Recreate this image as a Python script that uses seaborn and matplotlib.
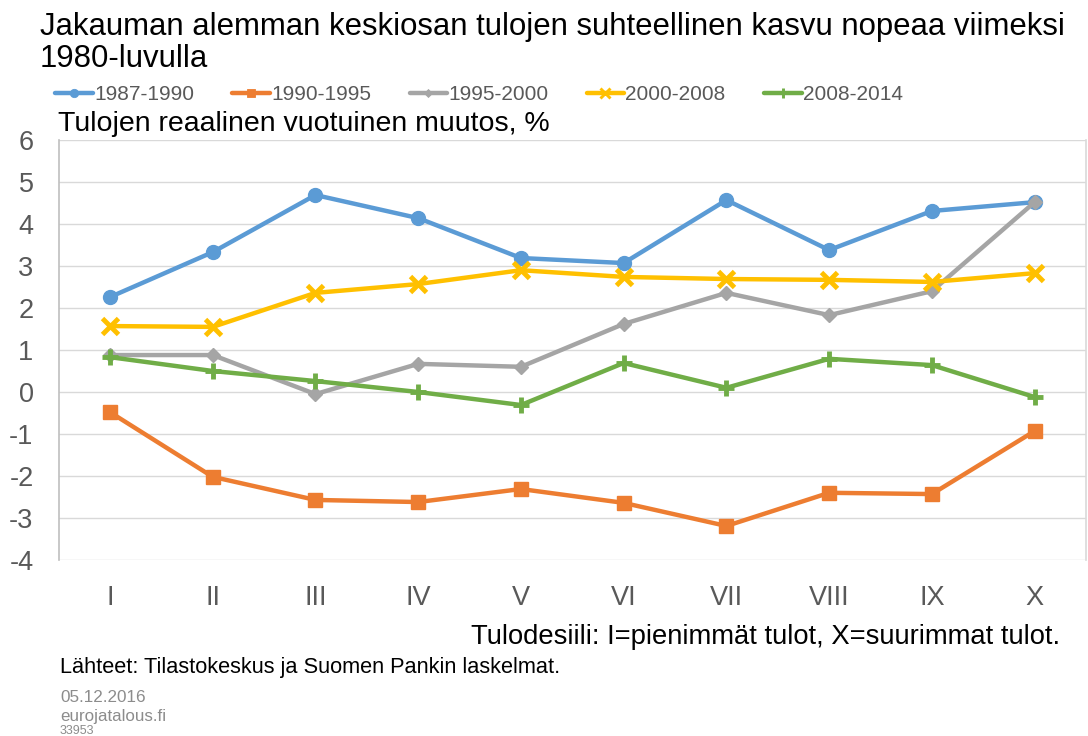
import matplotlib
matplotlib.use("Agg")
import matplotlib.pyplot as plt
import seaborn as sns
import pandas as pd
from matplotlib.lines import Line2D

categories = ["I", "II", "III", "IV", "V", "VI", "VII", "VIII", "IX", "X"]
s_1987_1990 = [2.26, 3.33, 4.69, 4.14, 3.19, 3.07, 4.57, 3.38, 4.31, 4.52]
s_1990_1995 = [-0.48, -2.02, -2.57, -2.62, -2.31, -2.64, -3.19, -2.40, -2.43, -0.93]
s_1995_2000 = [0.88, 0.88, -0.05, 0.67, 0.60, 1.62, 2.36, 1.83, 2.40, 4.52]
s_2000_2008 = [1.57, 1.55, 2.36, 2.57, 2.90, 2.74, 2.69, 2.67, 2.62, 2.83]
s_2008_2014 = [0.83, 0.50, 0.26, 0.00, -0.31, 0.69, 0.10, 0.79, 0.64, -0.12]
series_names = ["1987-1990", "1990-1995", "1995-2000", "2000-2008", "2008-2014"]
series_values = [s_1987_1990, s_1990_1995, s_1995_2000, s_2000_2008, s_2008_2014]
y_ticks = [-4, -3, -2, -1, 0, 1, 2, 3, 4, 5, 6]

sns.set_theme(style="white")
plt.rcParams["font.family"] = ["Liberation Sans", "DejaVu Sans"]

colors = ["#5B9BD5", "#ED7D31", "#A5A5A5", "#FFC000", "#70AD47"]
markers = ["o", "s", "D", "x", "+"]
msizes = [10, 10, 7, 11, 12]
mews = [1, 1, 1, 3.5, 3.5]

fig = plt.figure(figsize=(10.88, 7.36), dpi=100)
ax = fig.add_axes([58.6 / 1088, 1 - 560 / 736, (1086 - 58.6) / 1088, 420 / 736])

x_pos = list(range(len(categories)))
handles = []
for name, vals, c, m, ms, mw in zip(series_names, series_values, colors, markers, msizes, mews):
    df = pd.DataFrame({"x": x_pos, "y": vals})
    sns.lineplot(data=df, x="x", y="y", ax=ax, color=c, linewidth=3.2, marker=m,
                 markersize=ms, markeredgewidth=mw, markeredgecolor=c, sort=False)
    handles.append(Line2D([0], [0], color=c, linewidth=3.2, marker=m,
                          markersize=ms * 0.6, markeredgewidth=mw * 0.6, markeredgecolor=c))

ax.set_xlim(-0.5, len(categories) - 0.5)
ax.set_ylim(-4, 6)
ax.set_yticks(y_ticks)
ax.set_yticklabels([str(v) for v in y_ticks])
ax.set_xticks(x_pos)
ax.set_xticklabels(categories)
ax.tick_params(axis="both", length=0, labelsize=19.5, colors="#595959")
ax.tick_params(axis="x", pad=18)
ax.tick_params(axis="y", pad=18)
ax.set_xlabel("")
ax.set_ylabel("")
ax.yaxis.grid(True, color="#D9D9D9", linewidth=1)
ax.xaxis.grid(False)
ax.set_axisbelow(True)
for side in ["top", "bottom"]:
    ax.spines[side].set_visible(False)
ax.spines["left"].set_color("#BFBFBF")
ax.spines["left"].set_linewidth(1.2)
ax.spines["right"].set_color("#D9D9D9")
ax.spines["right"].set_linewidth(1.2)

fig.text(40 / 1088, 1 - 27 / 736, "Jakauman alemman keskiosan tulojen suhteellinen kasvu nopeaa viimeksi",
         ha="left", va="center", fontsize=22.4, color="#000000")
fig.text(40 / 1088, 1 - 59 / 736, "1980-luvulla",
         ha="left", va="center", fontsize=22.4, color="#000000")
fig.text(58 / 1088, 1 - 124 / 736, "Tulojen reaalinen vuotuinen muutos, %", ha="left", va="center",
         fontsize=20.5, color="#000000")
fig.legend(handles=handles, labels=series_names, loc="center left",
           bbox_to_anchor=(47 / 1088, 1 - 95 / 736), ncol=5, frameon=False,
           fontsize=15, handlelength=1.8, handletextpad=0.05, columnspacing=1.85,
           labelcolor="#595959", borderaxespad=0)
fig.text(1060 / 1088, 1 - 637 / 736, "Tulodesiili: I=pienimmät tulot, X=suurimmat tulot.",
         ha="right", va="center", fontsize=19.7, color="#000000")
fig.text(60 / 1088, 1 - 668 / 736, "Lähteet: Tilastokeskus ja Suomen Pankin laskelmat.",
         ha="left", va="center", fontsize=15.7, color="#000000")
fig.text(60 / 1088, 1 - 698 / 736, "05.12.2016", ha="left", va="center", fontsize=12.3, color="#8C8C8C")
fig.text(60 / 1088, 1 - 716 / 736, "eurojatalous.fi", ha="left", va="center", fontsize=12.2, color="#8C8C8C")
fig.text(60 / 1088, 1 - 731 / 736, "33953", ha="left", va="center", fontsize=9, color="#8C8C8C")

fig.savefig("out.png", dpi=100)
